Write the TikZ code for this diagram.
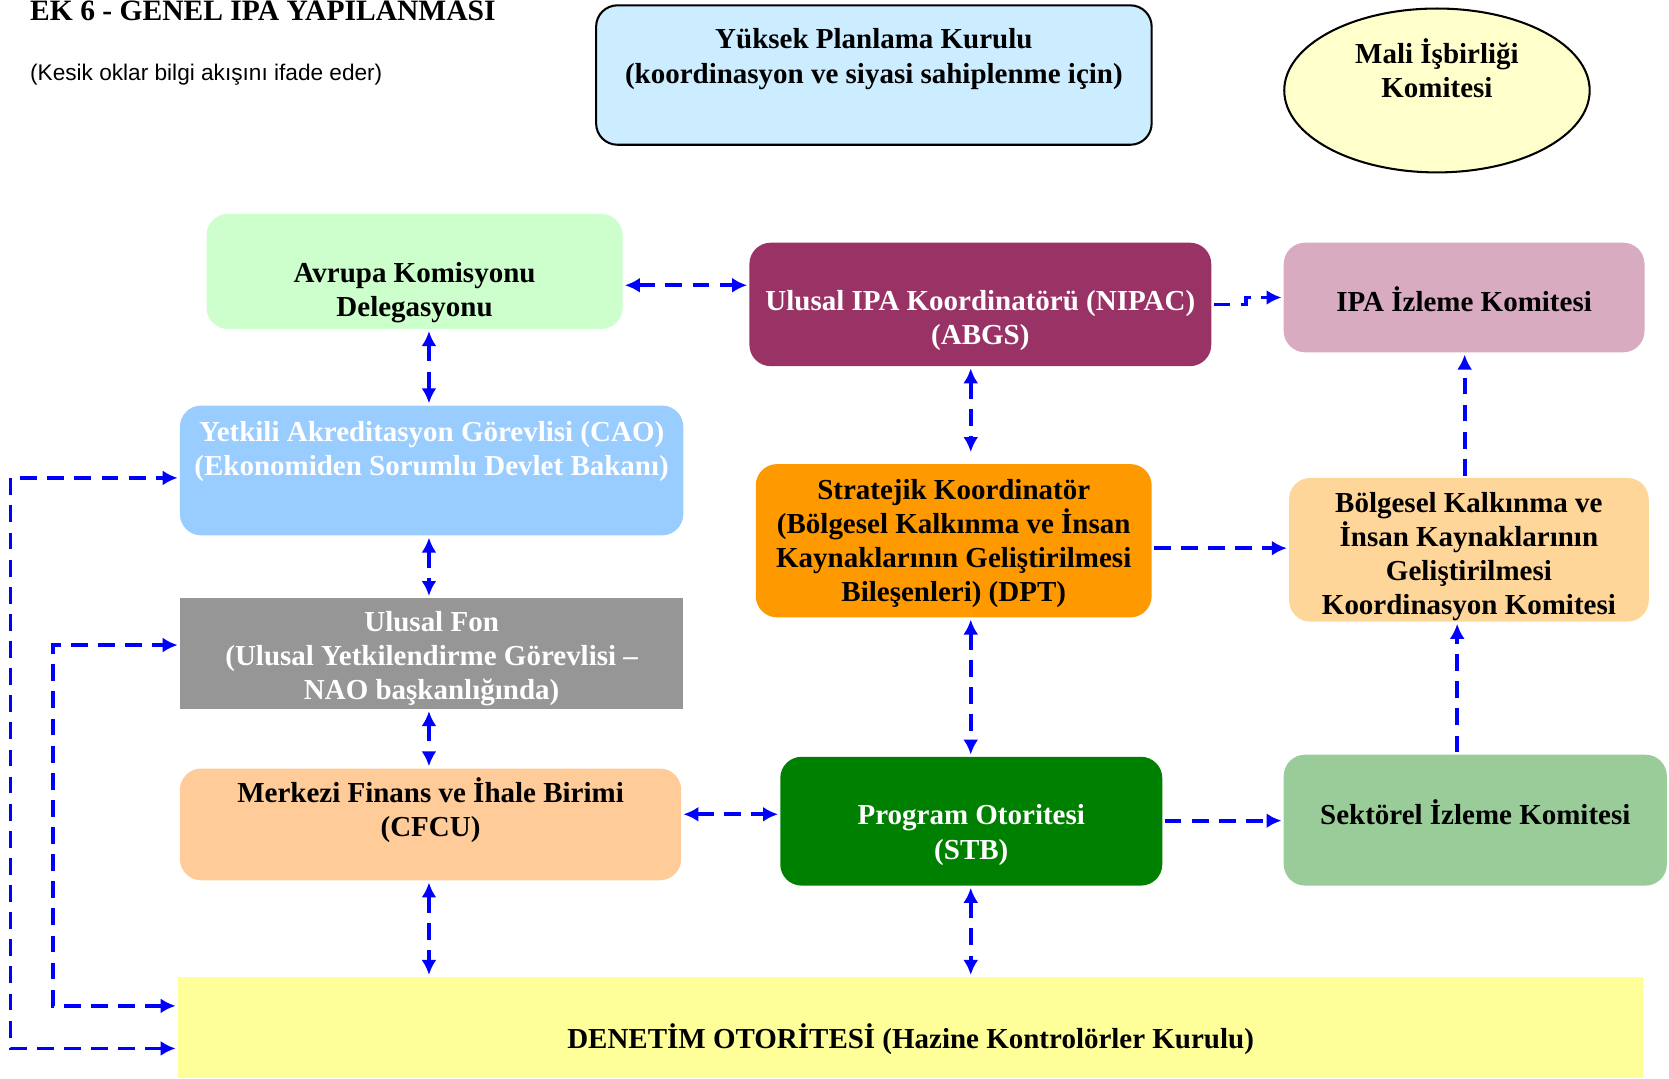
\documentclass[tikz,border=0pt]{standalone}
\usepackage{fontspec}
\setmainfont{Liberation Serif}
\setsansfont{Liberation Sans}
\usepackage{tikz}
\usetikzlibrary{arrows.meta,shapes.geometric}
\definecolor{ypkmavi}{HTML}{CCECFF}
\definecolor{miksari}{HTML}{FFFFCC}
\definecolor{akdyesil}{HTML}{CCFFCC}
\definecolor{nipacmor}{HTML}{993366}
\definecolor{ipapembe}{HTML}{D8ABC1}
\definecolor{caomavi}{HTML}{99CCFF}
\definecolor{skturuncu}{HTML}{FF9900}
\definecolor{bkkturuncu}{HTML}{FFD699}
\definecolor{ufgri}{HTML}{969696}
\definecolor{cfcuturuncu}{HTML}{FFCC99}
\definecolor{poyesil}{HTML}{008000}
\definecolor{sikyesil}{HTML}{99CC99}
\definecolor{dosari}{HTML}{FFFF99}

\begin{document}
\begin{tikzpicture}[x=0.02cm,y=-0.02cm,
    >={Latex[length=8pt,width=8pt]},
    kutu/.style={rectangle,rounded corners=0.4cm,inner sep=0pt},
    yazi/.style={font=\bfseries\fontsize{15.5}{18.2}\selectfont,align=center},
    akis/.style={<->,draw=blue,line width=2pt,dash pattern=on 9pt off 5.5pt,shorten >=1pt,shorten <=1pt}]
    \useasboundingbox (0,0) rectangle (1568,1013);
    \node[anchor=base west,inner sep=0pt,font=\bfseries\fontsize{15.8}{18}\selectfont] (T) at (28,19) {EK 6 - GENEL IPA YAPILANMASI};
    \node[anchor=base west,inner sep=0pt,font=\sffamily\fontsize{12.1}{14}\selectfont] (A) at (28,76) {(Kesik oklar bilgi akışını ifade eder)};
    \node[kutu,draw=black,line width=1.1pt,fill=ypkmavi,minimum width=10.44cm,minimum height=2.62cm,
      label={[yazi,yshift=0.3cm]center:{Yüksek Planlama Kurulu\\(koordinasyon ve siyasi sahiplenme için)}}] (YPK) at (821,70.5) {};
    \node[ellipse,draw=black,line width=1.1pt,fill=miksari,inner sep=0pt,minimum width=5.74cm,minimum height=3.08cm,
      label={[yazi,yshift=0.41cm]center:{Mali İşbirliği\\Komitesi}}] (MIK) at (1350,85) {};
    \node[kutu,fill=akdyesil,minimum width=7.82cm,minimum height=2.16cm,
      label={[yazi,yshift=-0.39cm]center:{Avrupa Komisyonu\\Delegasyonu}}] (AKD) at (389.5,255) {};
    \node[kutu,fill=nipacmor,minimum width=8.68cm,minimum height=2.32cm,
      label={[yazi,text=white,yshift=-0.3cm]center:{Ulusal IPA Koordinatörü (NIPAC)\\(ABGS)}}] (NIPAC) at (921,286) {};
    \node[kutu,fill=ipapembe,minimum width=6.78cm,minimum height=2.06cm,
      label={[yazi,yshift=-0.03cm]center:{IPA İzleme Komitesi}}] (IPAIK) at (1375.5,279.5) {};
    \node[kutu,fill=caomavi,minimum width=9.46cm,minimum height=2.44cm,
      label={[yazi,text=white,yshift=0.36cm]center:{Yetkili Akreditasyon Görevlisi (CAO)\\(Ekonomiden Sorumlu Devlet Bakanı)}}] (CAO) at (405.5,442) {};
    \node[kutu,fill=skturuncu,minimum width=7.44cm,minimum height=2.88cm,
      label={[yazi,yshift=-0.06cm]center:{Stratejik Koordinatör\\(Bölgesel Kalkınma ve İnsan\\Kaynaklarının Geliştirilmesi\\Bileşenleri) (DPT)}}] (SK) at (896,508) {};
    \node[kutu,fill=bkkturuncu,minimum width=6.76cm,minimum height=2.7cm,
      label={[yazi,yshift=-0.13cm]center:{Bölgesel Kalkınma ve\\İnsan Kaynaklarının\\Geliştirilmesi\\Koordinasyon Komitesi}}] (BKK) at (1380,516.5) {};
    \node[rectangle,inner sep=0pt,fill=ufgri,minimum width=9.46cm,minimum height=2.08cm,
      label={[yazi,text=white,yshift=-0.1cm]center:{Ulusal Fon\\(Ulusal Yetkilendirme Görevlisi –\\NAO başkanlığında)}}] (UF) at (405.5,614) {};
    \node[kutu,fill=cfcuturuncu,minimum width=9.42cm,minimum height=2.1cm,
      label={[yazi,yshift=0.27cm]center:{Merkezi Finans ve İhale Birimi\\(CFCU)}}] (CFCU) at (404.5,774.5) {};
    \node[kutu,fill=poyesil,minimum width=7.18cm,minimum height=2.42cm,
      label={[yazi,text=white,yshift=-0.26cm]center:{Program Otoritesi\\(STB)}}] (PO) at (912.5,771.5) {};
    \node[kutu,fill=sikyesil,minimum width=7.2cm,minimum height=2.46cm,
      label={[yazi,yshift=0.15cm]center:{Sektörel İzleme Komitesi}}] (SIK) at (1386,770.5) {};
    \node[rectangle,inner sep=0pt,fill=dosari,minimum width=27.54cm,minimum height=1.9cm,
      label={[yazi,yshift=-0.21cm]center:{DENETİM OTORİTESİ (Hazine Kontrolörler Kurulu)}}] (DO) at (855.5,965.5) {};
    % bilgi akisi
    \draw[akis] (AKD.east |- 0,268) -- (NIPAC.west |- 0,268);
    \draw[akis] (AKD.south -| 403,0) -- (CAO.north -| 403,0);
    \draw[akis,->] (NIPAC.east) -- ++(32,0) |- (IPAIK.west);
    \draw[akis,shorten >=0.22cm] (NIPAC.south -| 912,0) -- (SK.north -| 912,0);
    \draw[akis,->] (SK.east |- 0,515) -- (BKK.west |- 0,515);
    \draw[akis,->] (BKK.north -| 1376,0) -- (IPAIK.south -| 1376,0);
    \draw[akis] (CAO.south -| 403,0) -- (UF.north -| 403,0);
    \draw[akis] (UF.south -| 403,0) -- (CFCU.north -| 403,0);
    \draw[akis] (SK.south -| 912,0) -- (PO.north -| 912,0);
    \draw[akis] (CFCU.east |- 0,765) -- (PO.west |- 0,765);
    \draw[akis,->] (PO.east |- 0,771) -- (SIK.west |- 0,771);
    \draw[akis,->] (SIK.north -| 1369,0) -- (BKK.south -| 1369,0);
    \draw[akis] (CFCU.south -| 403,0) -- (DO.north -| 403,0);
    \draw[akis] (PO.south -| 912,0) -- (DO.north -| 912,0);
    \draw[akis] (DO.west |- 0,985) -- ++(-157,0) |- (CAO.west |- 0,449);
    \draw[akis] (DO.west |- 0,945) -- ++(-117,0) |- (UF.west |- 0,606);
\end{tikzpicture}
\end{document}
